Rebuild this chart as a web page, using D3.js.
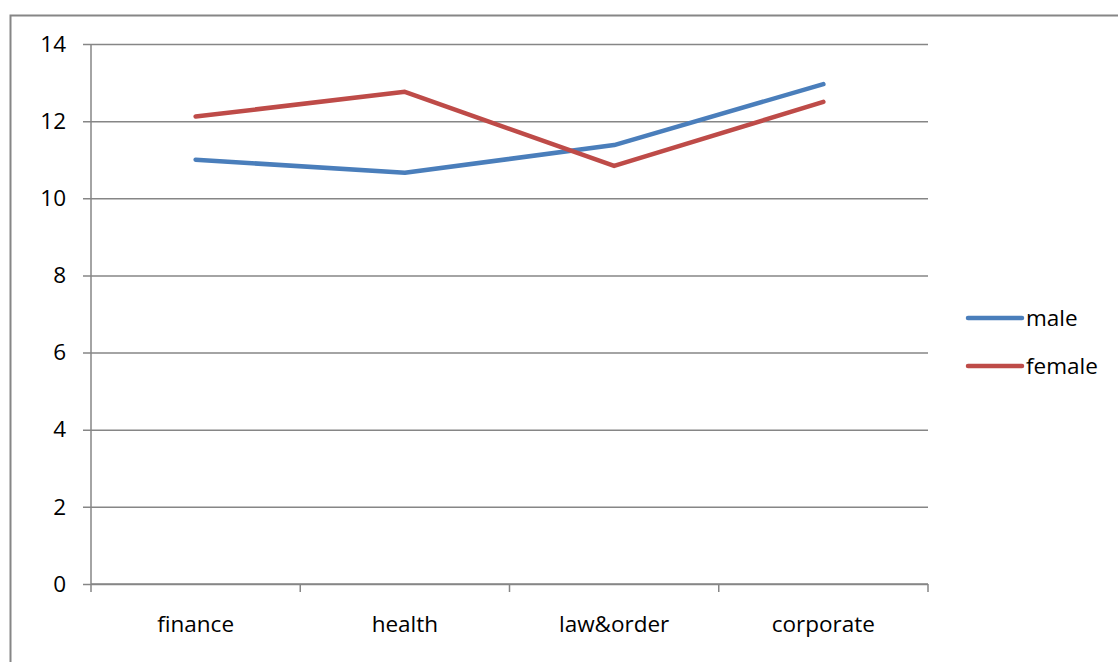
<!DOCTYPE html>
<html>
<head>
<meta charset="utf-8">
<script src="https://cdn.jsdelivr.net/npm/d3@7"></script>
<style>
  body { margin: 0; background: #fff; }
  svg { display: block; font-family: "Open Sans", sans-serif; }
</style>
</head>
<body>
<svg id="chart" width="1118" height="662"></svg>
<script>
// chart data
const categories = ["finance", "health", "law&order", "corporate"];
const maleValues = [11.0, 10.66, 11.38, 12.96];
const femaleValues = [12.12, 12.76, 10.84, 12.5];
const yTicks = [0, 2, 4, 6, 8, 10, 12, 14];
const seriesNames = ["male", "female"];
const seriesColors = ["#4A7EBB", "#BE4B48"];

const svg = d3.select("#chart");
const gridColor = "#868686";
const fontSize = "22.5px";

// outer frame (runs off the right/bottom edges)
svg.append("rect")
    .attr("x", 10.5).attr("y", 15.5)
    .attr("width", 1200).attr("height", 800)
    .attr("fill", "none")
    .attr("stroke", gridColor)
    .attr("stroke-width", 2);

const plot = { left: 91, right: 928, top: 44, bottom: 584 };

const x = d3.scaleBand().domain(categories).range([plot.left, plot.right]);
const y = d3.scaleLinear().domain([0, 14]).range([plot.bottom, plot.top]);

// horizontal gridlines + y ticks
svg.append("g")
    .attr("transform", `translate(${plot.left},0)`)
    .call(d3.axisLeft(y).tickValues(yTicks).tickSize(-(plot.right - plot.left)).tickSizeOuter(0))
    .call(g => g.select(".domain").remove())
    .call(g => g.selectAll(".tick line")
        .attr("stroke", gridColor).attr("stroke-width", 1.5)
        .attr("x1", -8))
    .call(g => g.selectAll(".tick text")
        .attr("x", -25)
        .attr("fill", "#000").style("font-size", fontSize)
        .style("font-family", "\"Open Sans\", sans-serif"));

// y axis line
svg.append("line")
    .attr("x1", plot.left).attr("x2", plot.left)
    .attr("y1", plot.top).attr("y2", plot.bottom)
    .attr("stroke", gridColor).attr("stroke-width", 1.5);

// x axis with ticks at category boundaries
svg.append("g")
    .attr("transform", `translate(0,${plot.bottom})`)
    .call(d3.axisBottom(x).tickSize(0).tickPadding(32))
    .call(g => g.select(".domain").remove())
    .call(g => g.selectAll(".tick text")
        .attr("fill", "#000").style("font-size", fontSize)
        .style("font-family", "\"Open Sans\", sans-serif"));

const bounds = categories.map(c => x(c)).concat([plot.right]);
svg.append("g").selectAll("line")
    .data(bounds)
    .join("line")
    .attr("x1", d => d).attr("x2", d => d)
    .attr("y1", plot.bottom).attr("y2", plot.bottom + 8)
    .attr("stroke", gridColor).attr("stroke-width", 1.5);

svg.append("line")
    .attr("x1", plot.left).attr("x2", plot.right)
    .attr("y1", plot.bottom).attr("y2", plot.bottom)
    .attr("stroke", gridColor).attr("stroke-width", 1.5);

// series lines
const line = d3.line()
    .x((d, i) => x(categories[i]) + x.bandwidth() / 2)
    .y(d => y(d));

[maleValues, femaleValues].forEach((vals, i) => {
    svg.append("path")
        .datum(vals)
        .attr("d", line)
        .attr("fill", "none")
        .attr("stroke", seriesColors[i])
        .attr("stroke-width", 4.5)
        .attr("stroke-linecap", "round")
        .attr("stroke-linejoin", "round");
});

// legend
const legend = svg.append("g").attr("transform", "translate(968,318)");
seriesNames.forEach((name, i) => {
    const row = legend.append("g").attr("transform", `translate(0,${i * 48})`);
    row.append("line")
        .attr("x1", 0).attr("x2", 54)
        .attr("stroke", seriesColors[i])
        .attr("stroke-width", 4.5)
        .attr("stroke-linecap", "round");
    row.append("text")
        .attr("x", 58).attr("dy", "0.35em")
        .style("font-size", fontSize)
        .text(name);
});
</script>
</body>
</html>
